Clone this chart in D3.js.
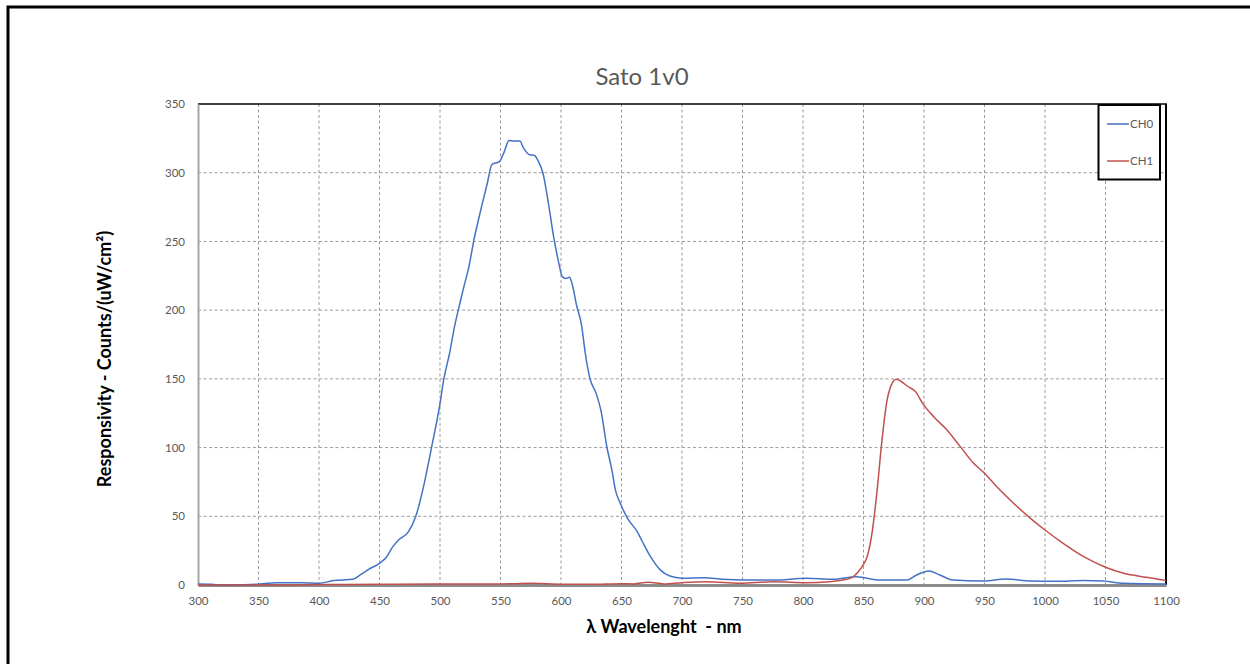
<!DOCTYPE html>
<html>
<head>
<meta charset="utf-8">
<script src="https://cdn.jsdelivr.net/npm/d3@7"></script>
<style>
  html, body { margin: 0; padding: 0; background: #fff; }
  svg { display: block; }
  text { font-family: Lato, "Open Sans", sans-serif; }
</style>
</head>
<body>
<svg id="chart" width="1250" height="664"></svg>
<script>
const title = "Sato 1v0";
const xLabel = "λ Wavelenght  - nm";
const yLabel = "Responsivity - Counts/(uW/cm²)";
const xTicks = [300,350,400,450,500,550,600,650,700,750,800,850,900,950,1000,1050,1100];
const yTicks = [0,50,100,150,200,250,300,350];
const seriesNames = ["CH0", "CH1"];
const seriesColors = ["#4472C4", "#C0504D"];

const ch0 = [[300,0.7],[311,0.5],[321,0],[335,0.2],[348,0.5],[365,1.7],[381,1.7],[390,1.5],[400,1.2],[412,3.2],[428,4.1],[434,7.3],[441,11.4],[450,15.8],[456,20.6],[461,27.9],[466,33],[474,38.8],[480,50],[487,74],[493,100],[500,132],[503,149],[508,169],[512,188],[517,207],[520,218],[524,232],[528,251],[534,274],[539,292],[543,306],[549,308],[553,315],[557,323.5],[561,323],[566,323],[569,318],[574,313],[578,312.6],[582,307],[585,300],[590,275.5],[594,253],[598,235],[601,224.5],[604,223],[607,224],[609,219.7],[613,203],[617,189],[620,169],[624,150],[629,139.6],[633,127],[638,100],[642,84],[645,69],[649,59.5],[655,48.5],[663,38.8],[667,32],[674,20.6],[682,11],[690,6.5],[700,5],[718,5.3],[734,4.1],[751,3.6],[776,3.6],[803,4.9],[825,4.1],[844,6],[864,3.6],[886,3.6],[894,7.3],[904,10.2],[913,7.3],[924,3.6],[949,2.9],[968,4.4],[988,2.9],[1010,2.7],[1032,3.2],[1048,2.9],[1065,1.2],[1100,0.7]];

const ch1 = [[300,0],[350,0],[400,0.3],[450,0.5],[500,0.8],[550,0.8],[575,1.2],[600,0.6],[625,0.5],[650,1],[660,0.8],[672,2],[685,0.8],[700,1.7],[720,2.4],[748,1.2],[775,2.4],[803,1.7],[822,2.4],[832,3.5],[839,4.8],[845,9],[850,15],[853,20.6],[857,37.6],[861,66.7],[865,103],[869,132],[873,145.6],[877,149.7],[880,148.8],[886,144.8],[893,140.7],[899,132],[908,122.5],[919,112.8],[930,100.7],[941,88.6],[950,81.3],[960,71.6],[974,59.5],[988,48.5],[1000,40],[1015,30.3],[1032,20.6],[1050,12.9],[1065,8.5],[1084,5.6],[1100,3.2]];

const svg = d3.select("#chart");

// outer frame
svg.append("rect").attr("x", 8).attr("y", 7).attr("width", 1300).attr("height", 700)
  .attr("fill", "none").attr("stroke", "#000").attr("stroke-width", 3);

const pLeft = 198, pRight = 1166, pTop = 104, pBottom = 585;
const x = d3.scaleLinear().domain([300, 1100]).range([pLeft, pRight]);
const y = d3.scaleLinear().domain([0, 350]).range([pBottom, pTop]);

// grid
const grid = svg.append("g");
grid.selectAll("line.v").data(xTicks.slice(1, -1)).enter().append("line")
  .attr("x1", d => x(d)).attr("x2", d => x(d)).attr("y1", pTop).attr("y2", pBottom)
  .attr("stroke", "#9a9a9a").attr("stroke-width", 1).attr("stroke-dasharray", "3,2.5");
grid.selectAll("line.h").data(yTicks.slice(1, -1)).enter().append("line")
  .attr("x1", pLeft).attr("x2", pRight).attr("y1", d => y(d)).attr("y2", d => y(d))
  .attr("stroke", "#9a9a9a").attr("stroke-width", 1).attr("stroke-dasharray", "3,2.5");

// plot border top/right black
svg.append("line").attr("x1", pLeft).attr("x2", pRight + 1).attr("y1", pTop).attr("y2", pTop)
  .attr("stroke", "#000").attr("stroke-width", 1.5);
svg.append("line").attr("x1", pRight).attr("x2", pRight).attr("y1", pTop).attr("y2", pBottom)
  .attr("stroke", "#000").attr("stroke-width", 2);

// axes
const xAxis = d3.axisBottom(x).tickValues(xTicks).tickFormat(d3.format("d")).tickSize(0).tickPadding(12);
const gx = svg.append("g").attr("transform", `translate(0,${pBottom})`).call(xAxis);
gx.select(".domain").attr("stroke", "#8c8c8c").attr("stroke-width", 3);
gx.selectAll("text").attr("fill", "#595959").style("font-size", "11.5px");

const yAxis = d3.axisLeft(y).tickValues(yTicks).tickFormat(d3.format("d")).tickSize(0).tickPadding(13);
const gy = svg.append("g").attr("transform", `translate(${pLeft},0)`).call(yAxis);
gy.select(".domain").attr("stroke", "#a6a6a6").attr("stroke-width", 2);
gy.selectAll("text").attr("fill", "#595959").style("font-size", "11.5px");

// lines
const line = d3.line().x(d => x(d[0])).y(d => y(d[1])).curve(d3.curveMonotoneX);
[ch0, ch1].forEach((s, i) => {
  svg.append("path").datum(s).attr("d", line).attr("fill", "none")
    .attr("stroke", seriesColors[i]).attr("stroke-width", 1.5);
});

// title
svg.append("text").attr("x", 642).attr("y", 85).attr("text-anchor", "middle")
  .attr("fill", "#595959").style("font-size", "24px").text(title);

// axis labels
svg.append("text").attr("x", 664).attr("y", 633).attr("text-anchor", "middle")
  .attr("fill", "#000").style("font-size", "18px").style("font-weight", "bold")
  .style("white-space", "pre").text(xLabel);
svg.append("text").attr("transform", "translate(111,359) rotate(-90)").attr("text-anchor", "middle")
  .attr("fill", "#000").style("font-size", "18px").style("font-weight", "bold").text(yLabel);

// legend
const lg = svg.append("g");
lg.append("rect").attr("x", 1098.5).attr("y", 105).attr("width", 61.5).attr("height", 74.5)
  .attr("fill", "#fff").attr("stroke", "#000").attr("stroke-width", 2);
seriesNames.forEach((n, i) => {
  const ly = 124 + i * 37;
  lg.append("line").attr("x1", 1107).attr("x2", 1129).attr("y1", ly).attr("y2", ly)
    .attr("stroke", seriesColors[i]).attr("stroke-width", 1.5);
  lg.append("text").attr("x", 1130).attr("y", ly + 4).attr("fill", "#595959")
    .style("font-size", "11.5px").text(n);
});
</script>
</body>
</html>
